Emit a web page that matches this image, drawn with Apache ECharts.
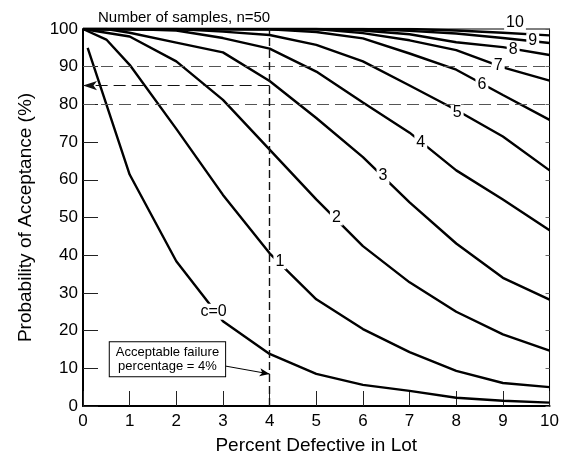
<!DOCTYPE html>
<html>
<head>
<meta charset="utf-8">
<script src="https://cdn.jsdelivr.net/npm/echarts@6/dist/echarts.min.js"></script>
<style>
  html, body { margin: 0; padding: 0; background: #fff; }
  #main { width: 562px; height: 460px; }
</style>
</head>
<body>
<div id="main"></div>
<script>
// percent defective in lot (x) and probability of acceptance (%) per acceptance number c
var pctDefective = [0, 0.1, 0.5, 1, 2, 3, 4, 5, 6, 7, 8, 9, 10];
var accept_c0  = [null, 95, null, 61.4, 38.4, 22.5, 13.8, 8.5, 5.6, 4.0, 2.2, 1.4, 0.9];
var accept_c1  = [100, null, 97.2, 90.5, 73.5, 56, 40.5, 28.3, 20.4, 14.3, 9.3, 6.1, 5.0];
var accept_c2  = [100, null, null, 98, 91.4, 81.2, 68, 54.8, 42.4, 32.8, 25, 19, 14.7];
var accept_c3  = [100, null, 100, 99, 96.4, 93.8, 86.2, 76.4, 66, 54, 43.1, 34, 28.2];
var accept_c4  = [100, null, null, 100, 99.6, 97.6, 94.8, 88.7, 80.5, 72.5, 62.5, 54.8, 46.6];
var accept_c5  = [100, null, null, 100, 100, 99.3, 98.4, 95.8, 91.4, 85, 78.5, 71.5, 62.5];
var accept_c6  = [100, null, null, 100, 100, 100, 99.9, 99.2, 97.5, 93.5, 89.2, 82.5, 75.9];
var accept_c7  = [100, null, null, 100, 100, 100, 100, 100, 98.9, 97, 94.4, 89.8, 86.3];
var accept_c8  = [100, null, null, 100, 100, 100, 100, 100, 99.6, 98.6, 96.5, 95.2, 93.1];
var accept_c9  = [100, null, null, 100, 100, 100, 100, 100, 100, 99.5, 98.8, 97.6, 96.3];
var accept_c10 = [100, null, null, 100, 100, 100, 100, 100, 100, 100, 99.6, 99, 98.3];

var curveNames = ['c=0', '1', '2', '3', '4', '5', '6', '7', '8', '9', '10'];
var labelX = [2.8, 4.22, 5.43, 6.43, 7.24, 8.02, 8.55, 8.9, 9.22, 9.64, 9.26];
var labelY = [25, 38.4, 50, 61, 69.8, 77.8, 85.2, 90.3, 94.6, 96.8, 101.6];

var acceptLevels = [90, 80];
var targetLevel = 85;
var failurePct = 4;

var xTicks = [0, 1, 2, 3, 4, 5, 6, 7, 8, 9, 10];

var curves = [accept_c0, accept_c1, accept_c2, accept_c3, accept_c4, accept_c5,
              accept_c6, accept_c7, accept_c8, accept_c9, accept_c10];

var myChart = echarts.init(document.getElementById('main'));

var FONT = 'Liberation Sans';

var series = curves.map(function (vals, k) {
    var pts = [];
    vals.forEach(function (v, i) {
        if (v !== null) pts.push([pctDefective[i], v]);
    });
    return {
        name: curveNames[k],
        type: 'line',
        data: pts,
        symbol: 'none',
        silent: true,
        z: 3,
        lineStyle: { color: '#000', width: 2.4 }
    };
});

// reference lines
series.push({
    type: 'line',
    data: [],
    silent: true,
    z: 2,
    markLine: {
        silent: true,
        animation: false,
        label: { show: false },
        data: [
            [{ coord: [0, acceptLevels[0]], symbol: 'none' }, { coord: [10, acceptLevels[0]], symbol: 'none',
              lineStyle: { color: '#555', type: [12, 6], width: 1 } }],
            [{ coord: [0, acceptLevels[1]], symbol: 'none' }, { coord: [10, acceptLevels[1]], symbol: 'none',
              lineStyle: { color: '#555', type: [12, 6], width: 1 } }],
            [{ coord: [failurePct, targetLevel], symbol: 'none' }, { coord: [0, targetLevel], symbol: 'arrow', symbolSize: [7, 14],
              lineStyle: { color: '#111', type: [12, 6], width: 1.2 } }],
            [{ coord: [failurePct, 0], symbol: 'none' }, { coord: [failurePct, 100], symbol: 'none',
              lineStyle: { color: '#111', type: [8, 4], width: 1.4 } }]
        ]
    }
});

// curve labels
series.push({
    type: 'scatter',
    data: labelX.map(function (x, i) { return { value: [x, labelY[i]], name: curveNames[i] }; }),
    symbolSize: 1,
    itemStyle: { color: 'rgba(0,0,0,0)', opacity: 1 },
    clip: false,
    silent: true,
    z: 6,
    label: {
        show: true,
        position: 'inside',
        formatter: '{b}',
        fontFamily: FONT,
        fontSize: 16,
        color: '#000',
        opacity: 1,
        backgroundColor: '#fff',
        padding: [0, 2]
    },
    markLine: {
        silent: true,
        animation: false,
        label: { show: false },
        symbol: ['none', 'arrow'],
        symbolSize: 6,
        lineStyle: { color: '#000', type: 'solid', width: 1, curveness: -0.4 },
        data: [
            [{ coord: [9.43, 101.7] }, { coord: [9.66, 98.9] }]
        ]
    }
});

// annotation box
series.push({
    type: 'scatter',
    data: [{ value: [1.81, 12.4], name: 'Acceptable failure\npercentage = ' + failurePct + '%' }],
    symbolSize: 1,
    itemStyle: { color: 'rgba(0,0,0,0)', opacity: 1 },
    silent: true,
    z: 6,
    label: {
        show: true,
        position: 'inside',
        formatter: '{b}',
        fontFamily: FONT,
        fontSize: 13,
        lineHeight: 14,
        color: '#000',
        opacity: 1,
        align: 'center',
        backgroundColor: '#fff',
        borderColor: '#000',
        borderWidth: 1,
        padding: [3, 6]
    },
    markLine: {
        silent: true,
        animation: false,
        label: { show: false },
        symbol: ['none', 'arrow'],
        symbolSize: [6, 10],
        lineStyle: { color: '#000', type: 'solid', width: 1, curveness: 0.4 },
        data: [
            [{ coord: [3.05, 10.6] }, { coord: [failurePct, 8.5] }]
        ]
    }
});

var option = {
    animation: false,
    textStyle: { fontFamily: FONT },
    title: {
        text: 'Number of samples, n=50',
        left: 93,
        top: 5,
        textStyle: { fontFamily: FONT, fontSize: 15, fontWeight: 'normal', color: '#000' }
    },
    grid: {
        left: 83, right: 8, top: 29, bottom: 53,
        show: true, borderColor: '#000', borderWidth: 1
    },
    xAxis: {
        type: 'value',
        min: xTicks[0],
        max: xTicks[xTicks.length - 1],
        interval: 1,
        name: 'Percent Defective in Lot',
        nameLocation: 'middle',
        nameGap: 30,
        nameTextStyle: { fontFamily: FONT, fontSize: 19, color: '#000' },
        axisLine: { lineStyle: { color: '#000', width: 2 } },
        axisTick: { inside: true, length: 15, lineStyle: { color: '#222', width: 1 } },
        axisLabel: { fontFamily: FONT, fontSize: 17, color: '#000', margin: 7 },
        splitLine: { show: false }
    },
    yAxis: [{
        type: 'value',
        min: 0,
        max: 100,
        interval: 10,
        name: 'Probability of Acceptance (%)',
        nameLocation: 'middle',
        nameGap: 48,
        nameTextStyle: { fontFamily: FONT, fontSize: 19, color: '#000' },
        axisLine: { lineStyle: { color: '#000', width: 2 } },
        axisTick: { inside: true, length: 15, lineStyle: { color: '#222', width: 1 } },
        axisLabel: { fontFamily: FONT, fontSize: 17, color: '#000', margin: 5 },
        splitLine: { show: false }
    }, {
        type: 'value',
        position: 'right',
        min: 0,
        max: 100,
        interval: 10,
        axisLine: { show: true, lineStyle: { color: '#000', width: 1 } },
        axisTick: { inside: true, length: 4, lineStyle: { color: '#666' } },
        axisLabel: { show: false },
        splitLine: { show: false }
    }],
    series: series
};

myChart.setOption(option);
</script>
</body>
</html>
